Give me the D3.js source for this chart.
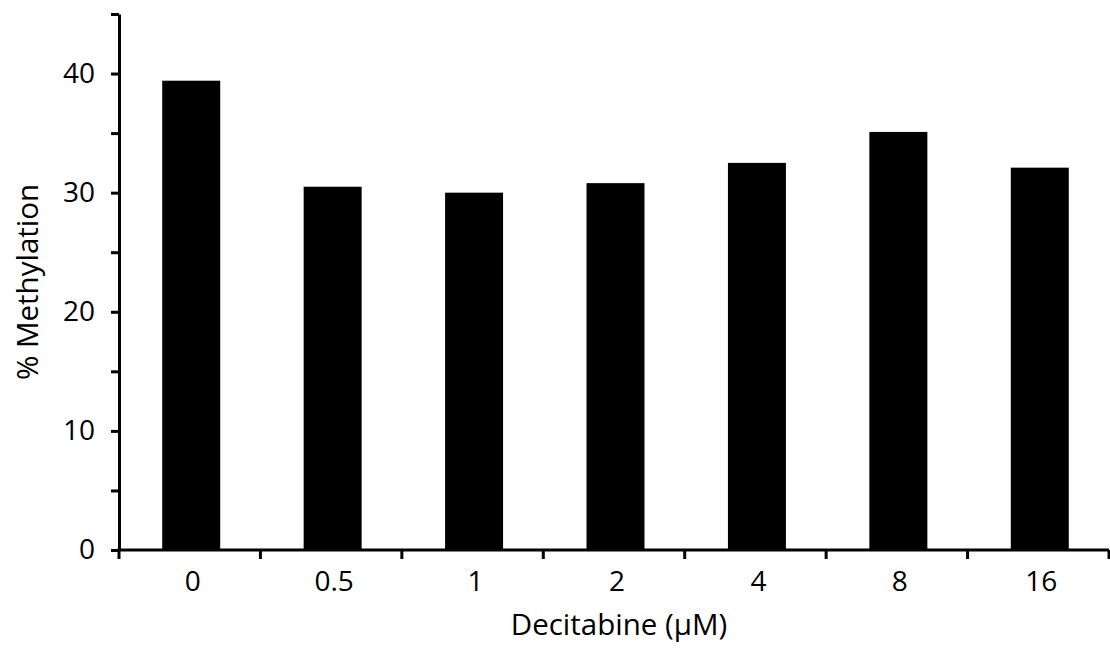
<!DOCTYPE html>
<html>
<head>
<meta charset="utf-8">
<script src="https://cdn.jsdelivr.net/npm/d3@7"></script>
<style>
  body { margin: 0; background: #fff; }
  svg text { font-family: "Open Sans", sans-serif; fill: #000; }
</style>
</head>
<body>
<svg width="1110" height="649"></svg>
<script>
var doses = ["0", "0.5", "1", "2", "4", "8", "16"];
var methylation = [39.4, 30.5, 30.0, 30.8, 32.5, 35.1, 32.1];
var yTicks = [0, 10, 20, 30, 40];
var yMinorTicks = [5, 15, 25, 35, 45];

var svg = d3.select("svg");
var plotLeft = 119, plotRight = 1109, plotTop = 14, plotBottom = 550;

var x = d3.scaleBand().domain(doses).range([plotLeft, plotRight]).padding(0);
var y = d3.scaleLinear().domain([0, 45]).range([plotBottom, plotTop]);

var barW = x.bandwidth() * 0.41;

// bars
svg.append("g").selectAll("rect")
    .data(doses)
  .enter().append("rect")
    .attr("x", function(d) { return x(d) + x.bandwidth() / 2 - barW / 2 + 1.5; })
    .attr("y", function(d, i) { return y(methylation[i]); })
    .attr("width", barW)
    .attr("height", function(d, i) { return y(0) - y(methylation[i]); })
    .attr("fill", "#000");

// y axis
var yAxis = svg.append("g")
    .attr("transform", "translate(" + plotLeft + ",0)")
    .call(d3.axisLeft(y).tickValues(yTicks).tickSize(8).tickSizeOuter(0).tickPadding(16));
yAxis.select(".domain").attr("stroke-width", 3);
yAxis.selectAll(".tick line").attr("stroke-width", 3);
yAxis.selectAll(".tick text").attr("font-size", 28).attr("font-family", "Open Sans");

svg.append("g")
    .attr("transform", "translate(" + plotLeft + ",0)")
    .call(d3.axisLeft(y).tickValues(yMinorTicks).tickSize(8).tickFormat(""))
    .call(function(g) { g.select(".domain").remove(); })
    .selectAll(".tick line").attr("stroke-width", 3);

// x axis: line, boundary ticks, labels
var bounds = doses.map(function(d) { return x(d); }).concat([plotRight]);
svg.append("line")
    .attr("x1", plotLeft - 1.5).attr("x2", plotRight)
    .attr("y1", plotBottom).attr("y2", plotBottom)
    .attr("stroke", "#000").attr("stroke-width", 3);
svg.append("g").selectAll("line")
    .data(bounds)
  .enter().append("line")
    .attr("x1", function(d) { return d; }).attr("x2", function(d) { return d; })
    .attr("y1", plotBottom).attr("y2", plotBottom + 9)
    .attr("stroke", "#000").attr("stroke-width", 3);

svg.append("g").selectAll("text")
    .data(doses)
  .enter().append("text")
    .attr("x", function(d) { return x(d) + x.bandwidth() / 2 + 3; })
    .attr("y", 591)
    .attr("text-anchor", "middle")
    .attr("font-size", 28)
    .text(function(d) { return d; });

// axis titles
svg.append("text")
    .attr("x", 619).attr("y", 635)
    .attr("text-anchor", "middle")
    .attr("font-size", 29.5)
    .text("Decitabine (µM)");

svg.append("text")
    .attr("transform", "translate(38,282) rotate(-90)")
    .attr("text-anchor", "middle")
    .attr("font-size", 29.5)
    .text("% Methylation");
</script>
</body>
</html>
